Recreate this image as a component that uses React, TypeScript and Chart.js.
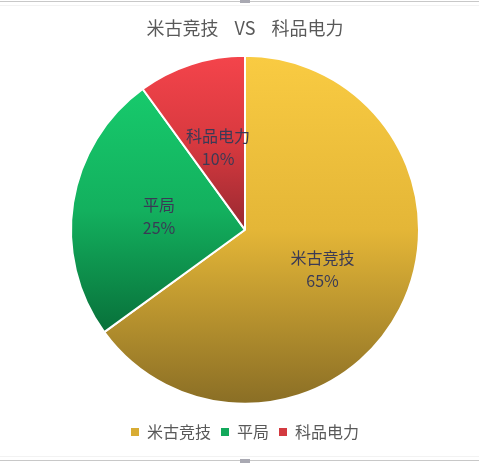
import { useEffect, useRef } from "react";
import { Chart, ChartConfiguration, registerables, Plugin } from "chart.js";

Chart.register(...registerables);

const categories = ["米古竞技", "平局", "科品电力"];
const shares = [65, 25, 10];

// top / middle / bottom stops of each slice's vertical gradient
const gradientStops = [
  ["#F9CB42", "#E4B637", "#8A6E25"],
  ["#17CA6C", "#13B05E", "#08703A"],
  ["#F4444B", "#D8393F", "#982931"],
];
const legendColors = ["#D8AC34", "#12A95B", "#D33A40"];

const BORDER = 2;

function sliceGradient(chart: Chart, index: number) {
  const area = chart.chartArea;
  if (!area) return gradientStops[index][0];
  const cx = (area.left + area.right) / 2;
  const cy = (area.top + area.bottom) / 2;
  const r = (Math.min(area.width, area.height) - BORDER) / 2;
  const total = shares.reduce((a, b) => a + b, 0);
  let start = -Math.PI / 2;
  for (let i = 0; i < index; i++) start += (shares[i] / total) * Math.PI * 2;
  const end = start + (shares[index] / total) * Math.PI * 2;

  // vertical extent of the slice
  const ys = [cy, cy + r * Math.sin(start), cy + r * Math.sin(end)];
  for (let k = -4; k <= 4; k++) {
    const a = Math.PI / 2 + k * Math.PI;
    if (a > start && a < end) ys.push(cy + r * Math.sin(a));
  }
  const top = Math.min(...ys);
  const bottom = Math.max(...ys);
  const g = chart.ctx.createLinearGradient(0, top, 0, bottom);
  const [c0, c1, c2] = gradientStops[index];
  g.addColorStop(0, c0);
  g.addColorStop(0.5, c1);
  g.addColorStop(1, c2);
  return g;
}

const sliceLabels: Plugin<"pie"> = {
  id: "sliceLabels",
  afterDatasetsDraw(chart) {
    const { ctx } = chart;
    const meta = chart.getDatasetMeta(0);
    const total = shares.reduce((a, b) => a + b, 0);
    ctx.save();
    ctx.font = '16px "Noto Sans CJK SC", sans-serif';
    ctx.fillStyle = "#3A3A55";
    ctx.textAlign = "center";
    ctx.textBaseline = "middle";
    meta.data.forEach((arc, i) => {
      const p = (arc as any).tooltipPosition(false);
      ctx.fillText(categories[i], p.x, p.y - 11.5);
      ctx.fillText(Math.round((shares[i] / total) * 100) + "%", p.x, p.y + 11.5);
    });
    ctx.restore();
  },
};

export default function App() {
  const canvasRef = useRef<HTMLCanvasElement>(null);
  const chartRef = useRef<Chart | null>(null);

  useEffect(() => {
    if (!canvasRef.current) return;
    const ctx = canvasRef.current.getContext("2d");
    if (!ctx) return;

    if (chartRef.current) {
      chartRef.current.destroy();
    }

    const config: ChartConfiguration<"pie"> = {
      type: "pie",
      data: {
        labels: categories,
        datasets: [
          {
            data: shares,
            backgroundColor: (c: any) => sliceGradient(c.chart, c.dataIndex),
            borderColor: "#FFFFFF",
            borderWidth: BORDER,
          },
        ],
      },
      options: {
        responsive: false,
        animation: false,
        layout: {
          padding: { left: 70, right: 59, top: 0, bottom: 13 },
        },
        plugins: {
          title: {
            display: true,
            text: "米古竞技    VS    科品电力",
            color: "#595959",
            font: { family: '"Noto Sans CJK SC", sans-serif', size: 18, weight: "normal" },
            padding: { top: 17, bottom: 7 },
          },
          legend: {
            position: "bottom",
            labels: {
              color: "#595959",
              font: { family: '"Noto Sans CJK SC", sans-serif', size: 16 },
              boxWidth: 8,
              boxHeight: 8,
              padding: 10,
              generateLabels: () =>
                categories.map((name, i) => ({
                  text: name,
                  fillStyle: legendColors[i],
                  strokeStyle: legendColors[i],
                  lineWidth: 0,
                  fontColor: "#595959",
                  index: i,
                  hidden: false,
                })),
            },
          },
          tooltip: { enabled: false },
        },
      },
      plugins: [sliceLabels],
    };

    chartRef.current = new Chart(ctx, config);

    return () => {
      if (chartRef.current) {
        chartRef.current.destroy();
        chartRef.current = null;
      }
    };
  }, []);

  return (
    <div
      style={{
        position: "absolute",
        left: 0,
        top: 0,
        width: 479,
        height: 463,
        background: "#FFFFFF",
        overflow: "hidden",
      }}
    >
      <canvas ref={canvasRef} width={479} height={463} style={{ position: "absolute", left: 0, top: 0 }} />
      <div style={{ position: "absolute", left: 0, top: 1, width: 479, height: 1, background: "#C8C8C8" }} />
      <div style={{ position: "absolute", left: 0, top: 5, width: 479, height: 1, background: "#F2F2F2" }} />
      <div style={{ position: "absolute", left: 240, top: 0, width: 10, height: 3, background: "#A9A9B2" }} />
      <div style={{ position: "absolute", left: 0, top: 456, width: 479, height: 1, background: "#F2F2F2" }} />
      <div style={{ position: "absolute", left: 0, top: 460, width: 479, height: 1, background: "#C8C8C8" }} />
      <div style={{ position: "absolute", left: 240, top: 459, width: 10, height: 4, background: "#A9A9B2" }} />
    </div>
  );
}
